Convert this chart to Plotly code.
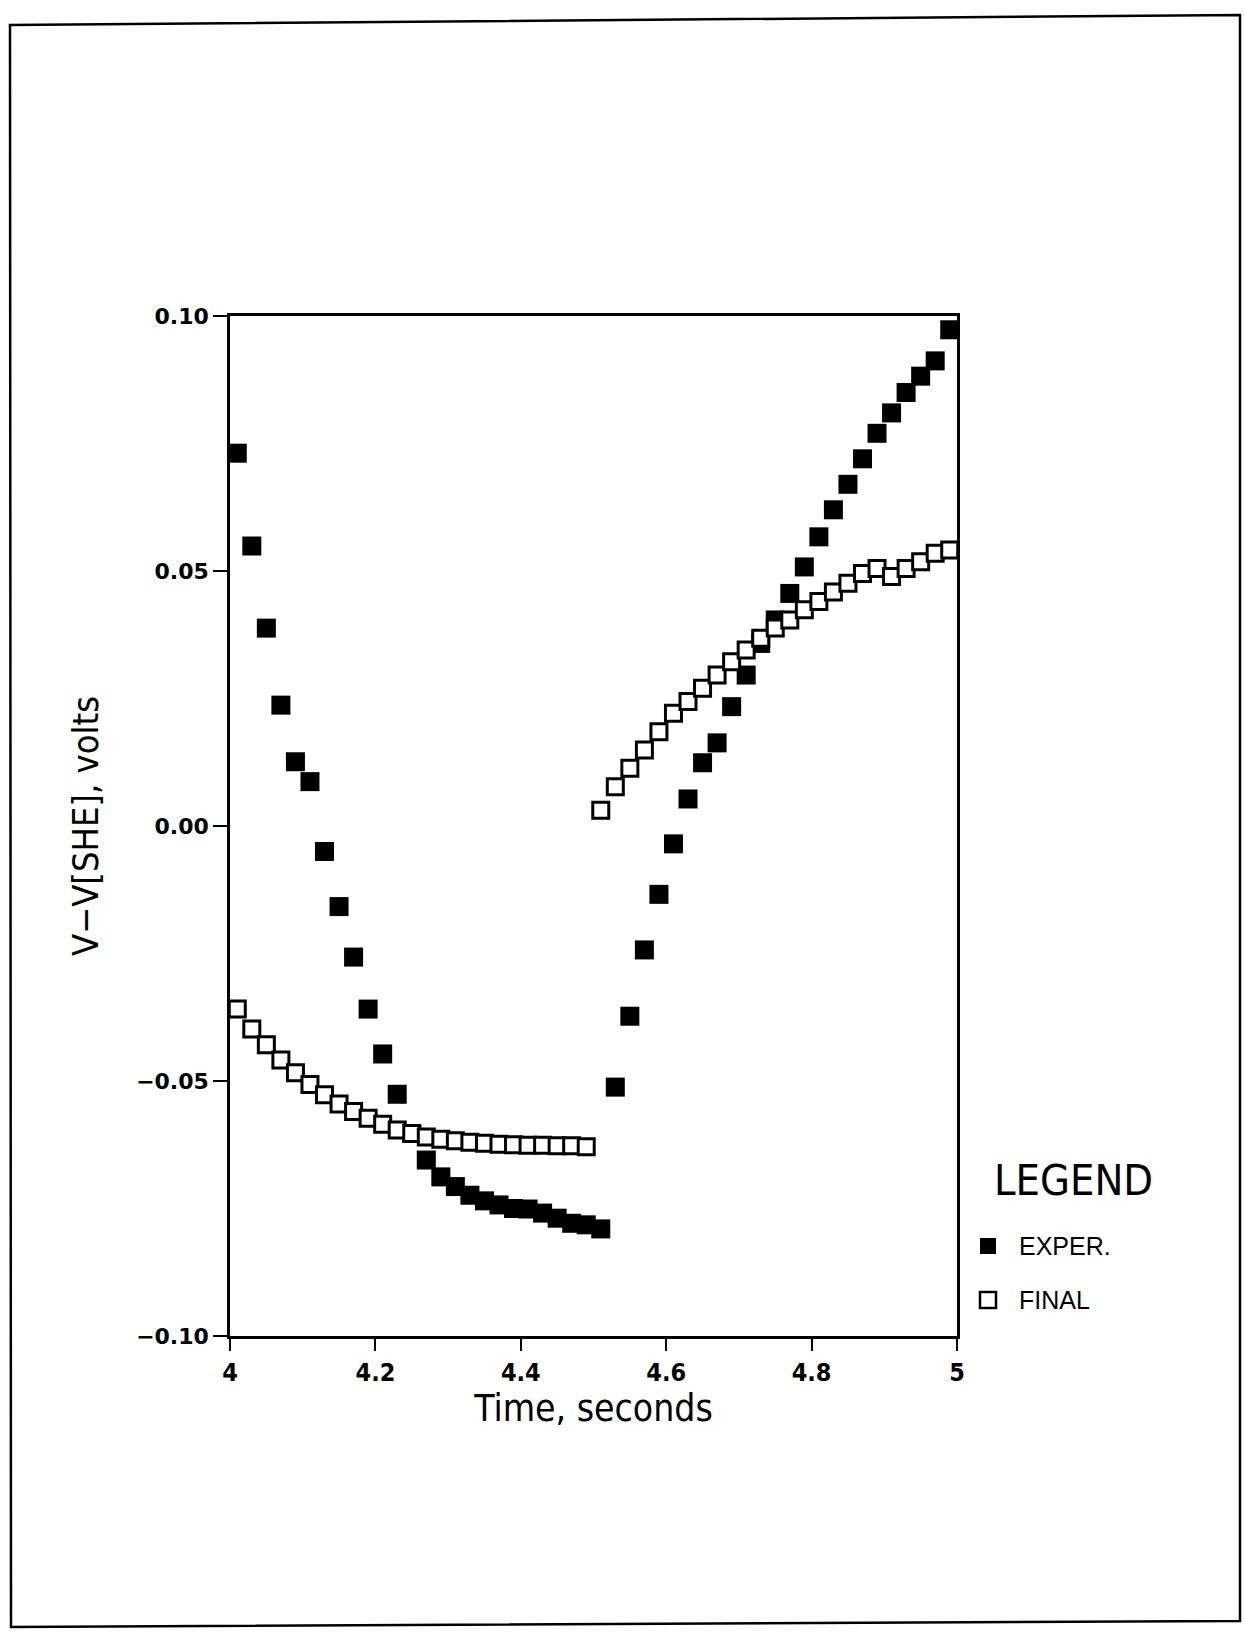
import plotly.graph_objects as go

# ---- data ----
exper_t = [4.01, 4.03, 4.05, 4.07, 4.09, 4.11, 4.13, 4.15, 4.17, 4.19,
           4.21, 4.23, 4.25, 4.27, 4.29, 4.31, 4.33, 4.35, 4.37, 4.39,
           4.41, 4.43, 4.45, 4.47, 4.49, 4.51,
           4.53, 4.55, 4.57, 4.59, 4.61, 4.63, 4.65, 4.67, 4.69, 4.71,
           4.73, 4.75, 4.77, 4.79, 4.81, 4.83, 4.85, 4.87, 4.89, 4.91,
           4.93, 4.95, 4.97, 4.99]
exper_v = [0.0731, 0.0549, 0.0388, 0.0237, 0.0126, 0.0087, -0.0050, -0.0158, -0.0257, -0.0359,
           -0.0447, -0.0526, -0.0603, -0.0655, -0.0688, -0.0707, -0.0724, -0.0735, -0.0743, -0.0750,
           -0.0751, -0.0759, -0.0769, -0.0779, -0.0782, -0.0790,
           -0.0512, -0.0373, -0.0243, -0.0134, -0.0035, 0.0053, 0.0124, 0.0163, 0.0234, 0.0296,
           0.0358, 0.0404, 0.0456, 0.0508, 0.0567, 0.0620, 0.0670, 0.0720, 0.0770, 0.0810,
           0.0850, 0.0882, 0.0912, 0.0973]

final_t = [4.01, 4.03, 4.05, 4.07, 4.09, 4.11, 4.13, 4.15, 4.17, 4.19,
           4.21, 4.23, 4.25, 4.27, 4.29, 4.31, 4.33, 4.35, 4.37, 4.39,
           4.41, 4.43, 4.45, 4.47, 4.49,
           4.51, 4.53, 4.55, 4.57, 4.59, 4.61, 4.63, 4.65, 4.67, 4.69,
           4.71, 4.73, 4.75, 4.77, 4.79, 4.81, 4.83, 4.85, 4.87, 4.89,
           4.91, 4.93, 4.95, 4.97, 4.99]
final_v = [-0.0359, -0.0398, -0.0429, -0.0459, -0.0484, -0.0507, -0.0527, -0.0545, -0.0560, -0.0573,
           -0.0585, -0.0596, -0.0603, -0.0610, -0.0614, -0.0617, -0.0620, -0.0622, -0.0624, -0.0625,
           -0.0626, -0.0626, -0.0627, -0.0627, -0.0629,
           0.0031, 0.0077, 0.0113, 0.0149, 0.0185, 0.0221, 0.0244, 0.0270, 0.0296, 0.0322,
           0.0345, 0.0368, 0.0388, 0.0404, 0.0424, 0.0440, 0.0459, 0.0476, 0.0495, 0.0505,
           0.0489, 0.0505, 0.0518, 0.0535, 0.0541]

series_names = ["EXPER.", "FINAL"]
x_ticks = [4, 4.2, 4.4, 4.6, 4.8, 5]
x_tick_text = ["4", "4.2", "4.4", "4.6", "4.8", "5"]
y_ticks = [-0.10, -0.05, 0.00, 0.05, 0.10]
y_tick_text = ["\u22120.10", "\u22120.05", "0.00", "0.05", "0.10"]

W, H = 1245, 1634
L, R, T, B = 230, 957, 316, 1336

fig = go.Figure()
fig.add_trace(go.Scatter(
    x=exper_t, y=exper_v, mode="markers", name=series_names[0], showlegend=False,
    marker=dict(symbol="square", size=19, color="black", line=dict(width=0)),
    cliponaxis=False))
fig.add_trace(go.Scatter(
    x=final_t, y=final_v, mode="markers", name=series_names[1], showlegend=False,
    marker=dict(symbol="square", size=16, color="white", line=dict(width=3, color="black")),
    cliponaxis=False))

def px2paper(px, py):
    return (px - L) / (R - L), (B - py) / (B - T)

# outer page border (slightly tilted)
corners = [(10, 25), (1240, 15), (1240, 1621), (11, 1627)]
pts = [px2paper(*c) for c in corners]
path = "M " + " L ".join(f"{x:.5f},{y:.5f}" for x, y in pts) + " Z"
fig.add_shape(type="path", path=path, xref="paper", yref="paper",
              line=dict(color="black", width=2.5), fillcolor="rgba(0,0,0,0)")

cond = "Liberation Sans Narrow, DejaVu Sans Condensed, Arial Narrow, sans-serif"
reg = "Liberation Sans, Arial, sans-serif"

# legend block
lx, ly = px2paper(1073, 1180)
fig.add_annotation(text="LEGEND", x=lx, y=ly, xref="paper", yref="paper",
                   showarrow=False, xanchor="center", yanchor="middle",
                   font=dict(family=cond, size=43, color="black"))
legend_rows = [(1246, "black", 0), (1300, "white", 2.5)]
for name, (cy, fill, lw) in zip(series_names, legend_rows):
    x0, y0 = px2paper(980, cy + 8)
    x1, y1 = px2paper(996, cy - 8)
    fig.add_shape(type="rect", xref="paper", yref="paper", x0=x0, y0=y0, x1=x1, y1=y1,
                  fillcolor=fill, line=dict(color="black", width=lw))
    tx, ty = px2paper(1017, cy)
    fig.add_annotation(text=name, x=tx, y=ty, xref="paper", yref="paper",
                       showarrow=False, xanchor="left", yanchor="middle",
                       font=dict(family=reg, size=25, color="black"))

fig.update_layout(
    width=W, height=H,
    margin=dict(l=L, r=W - R, t=T, b=H - B, pad=0),
    paper_bgcolor="white", plot_bgcolor="white",
    showlegend=False,
    xaxis=dict(range=[4, 5], tickvals=x_ticks, ticktext=x_tick_text,
               ticks="outside", ticklen=12, tickwidth=2, tickcolor="black",
               showline=True, linewidth=2.5, linecolor="black", mirror=True,
               showgrid=False, zeroline=False,
               tickfont=dict(family=cond, size=25, color="black", weight="bold"),
               title=dict(text="Time, seconds", standoff=8,
                          font=dict(family=cond, size=37, color="black"))),
    yaxis=dict(range=[-0.10, 0.10], tickvals=y_ticks, ticktext=y_tick_text,
               ticks="outside", ticklen=14, tickwidth=2, tickcolor="black",
               showline=True, linewidth=2.5, linecolor="black", mirror=True,
               showgrid=False, zeroline=False,
               tickfont=dict(family="DejaVu Sans", size=22, color="black", weight="bold"),
               title=dict(text="V\u2212V[SHE], volts", standoff=27,
                          font=dict(family=cond, size=36, color="black"))),
)

fig.write_html("out.html")
